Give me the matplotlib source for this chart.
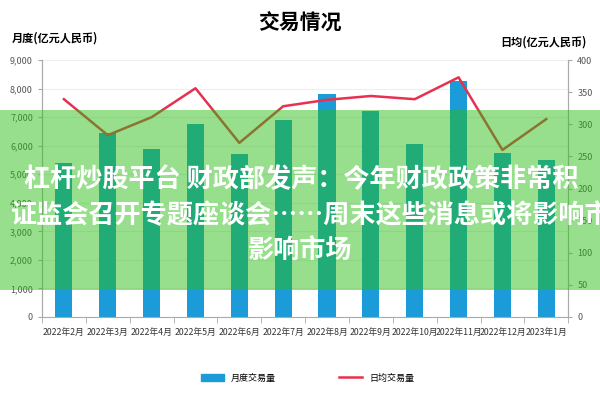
import matplotlib.pyplot as plt
import matplotlib.patches as mpatches
from matplotlib.lines import Line2D
from matplotlib.ticker import FuncFormatter
import numpy as np

plt.rcParams['font.family'] = ['Noto Sans CJK SC', 'DejaVu Sans']

months = ['2022年2月', '2022年3月', '2022年4月', '2022年5月', '2022年6月', '2022年7月',
          '2022年8月', '2022年9月', '2022年10月', '2022年11月', '2022年12月', '2023年1月']
monthly = [5400, 6450, 5880, 6760, 5710, 6900, 7810, 7210, 6060, 8260, 5740, 5500]
daily = [339, 283, 311, 356, 271, 328, 338, 344, 339, 373, 260, 308]

blue = '#1b9bd7'
red = '#e8304f'

fig = plt.figure(figsize=(6, 4), dpi=100, facecolor='white')
ax = fig.add_axes([0.07, 0.2075, 0.877, 0.6425])
x = np.arange(len(months))
ax.bar(x, monthly, width=0.39, color=blue, zorder=2)
ax.set_xlim(-0.5, len(months) - 0.5)
ax.set_ylim(0, 9000)
ax.set_yticks(range(0, 9001, 1000))
ax.yaxis.set_major_formatter(FuncFormatter(lambda v, p: f'{int(v):,}'))
ax.grid(axis='y', color='#eeeeee', linewidth=0.8, zorder=0)
ax.set_axisbelow(True)

ax2 = ax.twinx()
ax2.plot(x, daily, color=red, linewidth=1.8, zorder=3)
ax2.set_ylim(0, 400)
ax2.set_yticks(range(0, 401, 50))

for a in (ax, ax2):
    a.spines['top'].set_visible(False)
    for s in ('left', 'right', 'bottom'):
        a.spines[s].set_color('#aaaaaa')
    a.tick_params(axis='y', labelsize=6.5, colors='#555555', length=3, color='#aaaaaa')
ax2.spines['bottom'].set_visible(False)

ax.set_xticks(x)
ax.set_xticklabels(months)
ax.tick_params(axis='x', which='major', length=0, labelsize=6.3, colors='#333333', pad=8)
ax.set_xticks(np.arange(-0.5, len(months)), minor=True)
ax.tick_params(axis='x', which='minor', length=4, color='#aaaaaa')

fig.text(0.5, 0.943, '交易情况', ha='center', va='center', fontsize=15, fontweight='bold')
fig.text(0.02, 0.905, '月度(亿元人民币)', ha='left', va='center', fontsize=8, fontweight='bold')
fig.text(0.978, 0.895, '日均(亿元人民币)', ha='right', va='center', fontsize=8, fontweight='bold')

handles = [mpatches.Patch(color=blue), Line2D([0], [0], color=red, linewidth=1.8)]
fig.legend(handles, ['月度交易量', '日均交易量'], loc='center', bbox_to_anchor=(0.513, 0.055),
           ncol=2, frameon=False, fontsize=6.5, columnspacing=7, handlelength=2.5,
           handleheight=0.8)

# overlay banner
fig.patches.append(mpatches.Rectangle((0, 0.275), 1, 0.45, transform=fig.transFigure,
                                      color=(0.15, 0.74, 0.06), alpha=0.48, zorder=5,
                                      linewidth=0))
banner = dict(color='white', fontsize=18.8, fontweight='bold', va='center', zorder=6)
fig.text(0.04, 0.55, '杠杆炒股平台 财政部发声：今年财政政策非常积', ha='left', **banner)
fig.text(0.018, 0.462, '证监会召开专题座谈会……周末这些消息或将影响市', ha='left', **banner)
fig.text(0.5, 0.373, '影响市场', ha='center', **banner)

fig.savefig('out.png', dpi=100)
